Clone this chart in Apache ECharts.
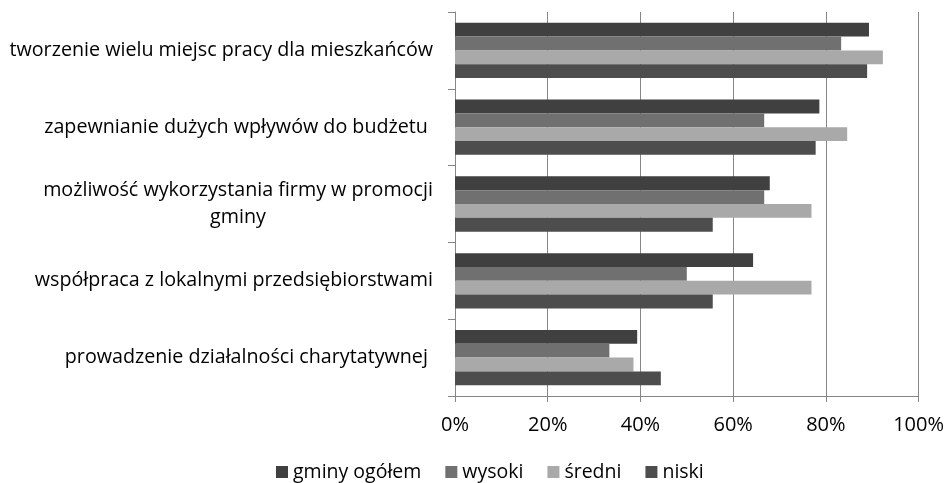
<!DOCTYPE html>
<html>
<head>
<meta charset="utf-8">
<script src="https://cdn.jsdelivr.net/npm/echarts@6/dist/echarts.min.js"></script>
<style>html,body{margin:0;padding:0;background:#fff;}#c{width:947px;height:483px;}</style>
</head>
<body>
<div id="c"></div>
<script>
var categories = [
  "tworzenie wielu miejsc pracy dla mieszkańców",
  "zapewnianie dużych wpływów do budżetu ",
  "możliwość wykorzystania firmy w promocji\ngminy",
  "współpraca z lokalnymi przedsiębiorstwami",
  "prowadzenie działalności charytatywnej "
];
var seriesNames = ["gminy ogółem", "wysoki", "średni", "niski"];
var ogolem = [89.3, 78.6, 67.9, 64.3, 39.3];
var wysoki = [83.3, 66.7, 66.7, 50.0, 33.3];
var sredni = [92.3, 84.6, 76.9, 76.9, 38.5];
var niski  = [88.9, 77.8, 55.6, 55.6, 44.4];
var xTicks = [0, 20, 40, 60, 80, 100];

var colors = ["#404040", "#707070", "#a9a9a9", "#4d4d4d"];
var allData = [ogolem, wysoki, sredni, niski];
var FONT = "Open Sans";
var YFS = 19.7;

var cv = document.createElement('canvas').getContext('2d');
cv.font = YFS + 'px "' + FONT + '"';

var chart = echarts.init(document.getElementById('c'), null, {renderer: 'canvas'});
chart.setOption({
  animation: false,
  textStyle: {fontFamily: FONT},
  grid: {left: 455, right: 27, top: 12, bottom: 87, containLabel: false},
  legend: {
    top: 457, left: 271,
    itemWidth: 12, itemHeight: 12, itemGap: 24,
    icon: 'rect',
    textStyle: {fontFamily: FONT, fontSize: 19.5, color: '#000'},
    data: seriesNames
  },
  xAxis: {
    type: 'value', min: xTicks[0], max: xTicks[xTicks.length - 1], interval: 20,
    axisLine: {show: true, lineStyle: {color: '#868686', width: 1}},
    axisTick: {show: true, length: 6, lineStyle: {color: '#868686'}},
    axisLabel: {margin: 19, fontSize: 20, color: '#000', fontFamily: FONT, formatter: '{value}%'},
    splitLine: {show: true, lineStyle: {color: '#868686', width: 1}}
  },
  yAxis: {
    type: 'category', inverse: true, data: categories,
    axisLine: {show: true, lineStyle: {color: '#868686', width: 1}},
    axisTick: {show: true, length: 7, lineStyle: {color: '#868686'}},
    axisLabel: {
      margin: 22, fontSize: YFS, color: '#000', fontFamily: FONT, lineHeight: 27,
      formatter: function (v) {
        if (v.indexOf('\n') >= 0) {
          var p = v.split('\n');
          return '{c|' + p[0] + '}\n{c|' + p[1] + '}';
        }
        return v;
      },
      rich: {c: {width: Math.ceil(cv.measureText(categories[2].split('\n')[0]).width), align: 'center', fontSize: YFS, fontFamily: FONT, color: '#000', lineHeight: 27}}
    },
    splitLine: {show: false}
  },
  series: seriesNames.map(function (n, i) {
    return {
      name: n, type: 'bar', data: allData[i],
      barGap: '0%', barCategoryGap: '28%',
      itemStyle: {color: colors[i]}
    };
  })
});
</script>
</body>
</html>
